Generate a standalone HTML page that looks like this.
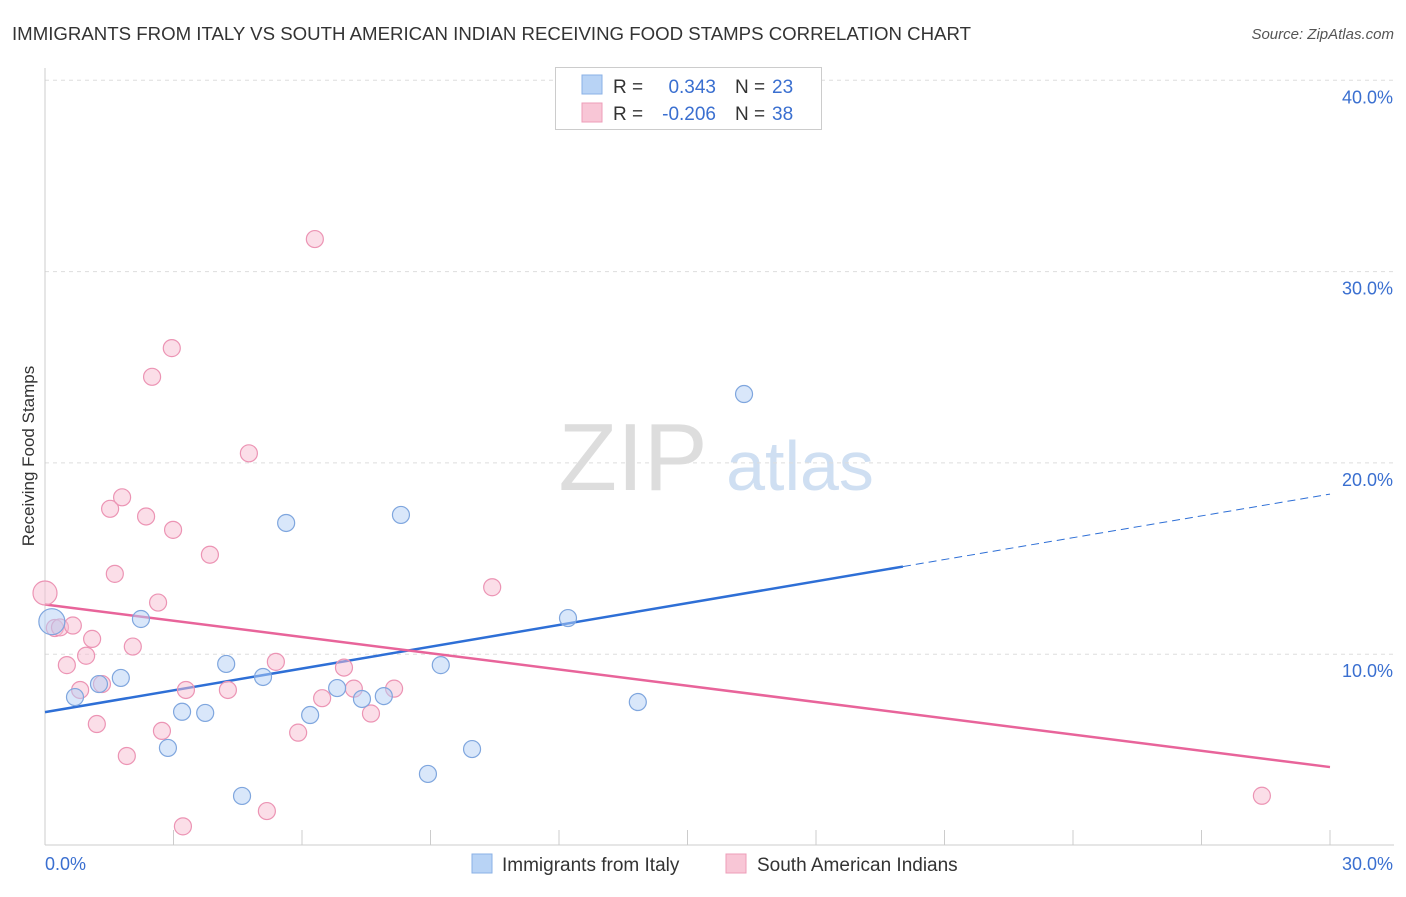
<!DOCTYPE html>
<html><head><meta charset="utf-8"><style>
body{margin:0;background:#fff;font-family:"Liberation Sans",sans-serif;}
svg text{font-family:"Liberation Sans",sans-serif;}
</style></head><body>
<svg id="chart" width="1406" height="892" xmlns="http://www.w3.org/2000/svg">
<text x="12" y="40" font-size="18" fill="#333" textLength="959" lengthAdjust="spacingAndGlyphs">IMMIGRANTS FROM ITALY VS SOUTH AMERICAN INDIAN RECEIVING FOOD STAMPS CORRELATION CHART</text>
<text x="1394" y="39" font-size="15" fill="#555" font-style="italic" text-anchor="end">Source: ZipAtlas.com</text>
<text transform="translate(34,456) rotate(-90)" font-size="17" fill="#333" text-anchor="middle">Receiving Food Stamps</text>
<g><text x="633" y="490" font-size="96" fill="#ddd" font-family="Liberation Serif" text-anchor="middle">ZIP</text><text x="800" y="490" font-size="70" fill="#cfdff2" text-anchor="middle">atlas</text></g>
<g id="grid"></g><g id="axes"></g><g id="lines"></g><g id="pts"></g>
<g>
<rect x="555.5" y="67.5" width="266" height="62" fill="#fff" stroke="#ccc"/>
<rect x="582" y="75" width="20" height="19" fill="#b8d3f5" stroke="#8ab0e6"/>
<rect x="582" y="103" width="20" height="19" fill="#f8c6d6" stroke="#ee9db8"/>
<text x="613" y="93" font-size="19" fill="#333">R = </text><text x="716" y="93" font-size="19" fill="#3a6fd0" text-anchor="end">0.343</text>
<text x="735" y="93" font-size="19" fill="#333">N = </text><text x="772" y="93" font-size="19" fill="#3a6fd0">23</text>
<text x="613" y="120" font-size="19" fill="#333">R = </text><text x="716" y="120" font-size="19" fill="#3a6fd0" text-anchor="end">-0.206</text>
<text x="735" y="120" font-size="19" fill="#333">N = </text><text x="772" y="120" font-size="19" fill="#3a6fd0">38</text>
</g>
<g>
<rect x="472" y="854" width="20" height="19" fill="#b8d3f5" stroke="#8ab0e6"/>
<text x="502" y="871" font-size="19" fill="#333">Immigrants from Italy</text>
<rect x="726" y="854" width="20" height="19" fill="#f8c6d6" stroke="#ee9db8"/>
<text x="757" y="871" font-size="19" fill="#333">South American Indians</text>
</g>
</svg>
<script>
const yTicks=[10,20,30,40];
const yTickLabels=["10.0%","20.0%","30.0%","40.0%"];
const italyX=[0.16,0.7,1.26,1.77,2.24,2.87,3.2,3.74,4.23,4.6,5.09,5.63,6.19,6.82,7.4,7.91,8.31,8.94,9.24,9.97,12.21,13.84,16.32];
const italyY=[11.7,7.76,8.44,8.76,11.84,5.1,6.99,6.93,9.49,2.59,8.81,16.86,6.82,8.23,7.66,7.81,17.28,3.74,9.43,5.04,11.89,7.5,23.6];
const saiX=[0,0.23,0.35,0.65,0.51,0.82,0.96,1.1,1.21,1.33,1.52,1.63,1.8,1.91,2.05,2.36,2.5,2.64,2.73,2.96,2.99,3.22,3.29,3.85,4.27,4.76,5.18,5.39,5.91,6.3,6.47,6.98,7.21,7.61,8.15,10.44,28.41];
const saiY=[13.2,11.37,11.4,11.5,9.43,8.13,9.92,10.8,6.35,8.44,17.6,14.2,18.2,4.68,10.4,17.2,24.5,12.7,5.99,26.0,16.5,1.0,8.13,15.2,8.13,20.5,1.8,9.6,5.9,31.7,7.7,9.3,8.2,6.9,8.2,13.5,2.6];
const italyTrend=[6.97,18.37];
const saiTrend=[12.6,4.1];
const NS="http://www.w3.org/2000/svg";
const X=v=>45+v/30*1285, Y=v=>845.5-v*19.13;
function mk(t,a,p){const e=document.createElementNS(NS,t);for(const k in a)e.setAttribute(k,a[k]);document.getElementById(p).appendChild(e);return e;}
yTicks.forEach((t,i)=>{
 const g=mk('line',{x1:45,x2:1394,y1:Y(t),y2:Y(t),stroke:'#ddd','stroke-dasharray':'4,4'},'grid');
 
 
 const l=mk('text',{x:1393,y:Y(t)+23,'font-size':18,fill:'#3a6fd0','text-anchor':'end'},'grid');l.textContent=yTickLabels[i];
 
 
});
let ax=mk('line',{x1:45,x2:45,y1:68,y2:845,stroke:'#ccc'},'axes');


ax=mk('line',{x1:45,x2:1394,y1:845,y2:845,stroke:'#ccc'},'axes');


for(let i=0;i<=10;i++){const t=mk('line',{x1:X(i*3),x2:X(i*3),y1:830,y2:845,stroke:'#ccc'},'axes');
 
 }
let xl=mk('text',{x:45,y:870,'font-size':18,fill:'#3a6fd0'},'axes');xl.textContent='0.0%';


xl=mk('text',{x:1393,y:870,'font-size':18,fill:'#3a6fd0','text-anchor':'end'},'axes');xl.textContent='30.0%';


const bt=x=>italyTrend[0]+(italyTrend[1]-italyTrend[0])*x/30;
let ln=mk('line',{x1:X(0),y1:Y(bt(0)),x2:X(20.03),y2:Y(bt(20.03)),stroke:'#2e6fd6','stroke-width':2.5},'lines');


ln=mk('line',{x1:X(20.03),y1:Y(bt(20.03)),x2:X(30),y2:Y(bt(30)),stroke:'#2e6fd6','stroke-width':1,'stroke-dasharray':'8,5'},'lines');


ln=mk('line',{x1:X(0),y1:Y(saiTrend[0]),x2:X(30),y2:Y(saiTrend[1]),stroke:'#e8649a','stroke-width':2.5},'lines');


saiX.forEach((x,i)=>{const c=mk('circle',{cx:X(x),cy:Y(saiY[i]),r:i==0?12:8.5,fill:'rgba(248,190,210,0.5)',stroke:'#ec94b4','stroke-width':1.2},'pts');
 
 });
italyX.forEach((x,i)=>{const c=mk('circle',{cx:X(x),cy:Y(italyY[i]),r:i==0?13:8.5,fill:'rgba(180,208,245,0.5)',stroke:'#7fa6de','stroke-width':1.2},'pts');
 
 });
</script>
</body></html>
